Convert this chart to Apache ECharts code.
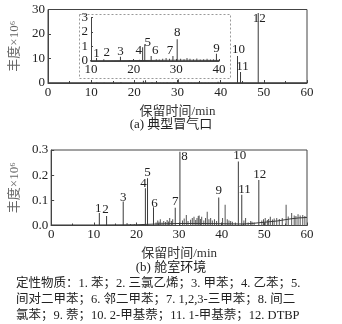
<!DOCTYPE html>
<html>
<head>
<meta charset="utf-8">
<script src="https://cdn.jsdelivr.net/npm/echarts@6/dist/echarts.min.js"></script>
<style>
  html, body { margin: 0; padding: 0; background: #fff; }
  #chart { width: 342px; height: 324px; }
</style>
</head>
<body>
<div id="chart"></div>
<script>
// 峰编号
const peakNames = ['1', '2', '3', '4', '5', '6', '7', '8', '9', '10', '11', '12']
// (a) 典型冒气口 峰位置(min) / 丰度(×10^6)
const peakTimeA = [11.3, 13.0, 16.9, 22.1, 22.6, 24.1, 29.2, 30.2, 39.4, 43.9, 44.6, 48.7]
const peakHeightA = [0.2, 0.12, 0.3, 0.95, 1.15, 0.35, 0.35, 1.5, 0.5, 11, 4.5, 28.6]
// (a) 小峰
const minorTimeA = [19.0, 20.5, 21.4, 25.3, 26.0, 26.8, 27.6, 28.4, 31.0, 31.8, 32.5, 33.2, 34.0, 34.8, 35.6, 36.4, 37.2, 38.0, 38.7]
const minorHeightA = [0.05, 0.06, 0.08, 0.12, 0.1, 0.15, 0.2, 0.15, 0.15, 0.12, 0.2, 0.15, 0.12, 0.18, 0.1, 0.12, 0.15, 0.1, 0.12]
const baseTimeA = [0, 10, 20, 30, 40, 50, 60]
const baseHeightA = [0.02, 0.02, 0.03, 0.05, 0.04, 0.03, 0.03]

// (b) 舱室环境
const peakTimeB = [11.3, 13.0, 16.9, 22.1, 22.6, 24.0, 29.1, 30.2, 39.3, 43.9, 44.7, 48.7]
const peakHeightB = [0.05, 0.038, 0.095, 0.148, 0.188, 0.073, 0.071, 0.293, 0.111, 0.254, 0.122, 0.181]
const minorTimeB = [17.8, 18.6, 19.5, 24.6, 25.0, 25.3, 25.6, 26.0, 26.4, 26.8, 27.2, 27.5, 27.8, 28.2, 28.5,
  30.8, 31.2, 31.7, 32.1, 32.7, 33.1, 33.5, 33.9, 34.2, 34.5, 34.7, 35.0, 35.3, 35.8, 36.2, 36.6, 37.0, 37.4, 37.8, 38.3, 38.8,
  40.2, 40.8, 41.3, 41.7, 42.1, 42.5, 43.2, 45.2, 45.6, 46.2, 46.8, 47.1, 47.6, 49.4, 49.8, 50.2, 50.7, 51.0, 51.4, 51.9, 52.3, 52.9, 53.5, 54.2,
  55.1, 55.6, 56.4, 57.0, 57.4, 57.9, 58.4, 59.0, 59.5]
const minorHeightB = [0.01, 0.006, 0.005, 0.012, 0.02, 0.015, 0.025, 0.012, 0.018, 0.014, 0.022, 0.016, 0.03, 0.018, 0.025,
  0.02, 0.028, 0.042, 0.018, 0.023, 0.03, 0.035, 0.022, 0.03, 0.038, 0.04, 0.026, 0.035, 0.02, 0.03, 0.055, 0.025, 0.03, 0.02, 0.025, 0.018,
  0.03, 0.082, 0.025, 0.02, 0.018, 0.015, 0.012, 0.02, 0.03, 0.012, 0.018, 0.015, 0.012, 0.02, 0.025, 0.03, 0.022, 0.026, 0.035, 0.024, 0.028, 0.03, 0.026, 0.03,
  0.082, 0.036, 0.05, 0.04, 0.038, 0.045, 0.04, 0.042, 0.038]
const baseTimeB = [0, 10, 20, 25, 30, 35, 40, 45, 47, 50, 53, 56, 58, 60]
const baseHeightB = [0.002, 0.002, 0.003, 0.006, 0.008, 0.008, 0.007, 0.006, 0.008, 0.013, 0.018, 0.026, 0.03, 0.032]

const yTicksA = [0, 10, 20, 30]
const yTicksB = [0, 0.1, 0.2, 0.3]

// 标签偏移 [dx, dy]
const labelOffsetA = [[0, 1.5], [3, 0], [0, 1.5], [-4, 10], [3, 5], [4, 1], [-3, 1], [0, 0], [0, 1], [1, 0.5], [2, 1.5], [1, 12.5]]
const labelOffsetB = [[-1, 2.5], [-1, 0.5], [0, 2.5], [-2, 1.5], [0, 1], [1, 2.5], [0, 0], [4.5, 11.5], [0, 0], [1.5, 1], [2.7, 1.5], [1, 1]]

const serif = '"Liberation Serif", "Noto Sans CJK SC", serif'
const lineColor = '#3a3a3a'

const zip = (xs, ys) => xs.map((x, i) => [x, ys[i]])

function mainAxes(gridIndex, yMax, yInterval) {
  const x = {
    type: 'value', gridIndex, min: 0, max: 60, interval: 10,
    name: '保留时间/min', nameLocation: 'middle', nameGap: 22,
    nameTextStyle: { fontFamily: serif, fontSize: 13, color: '#333' },
    axisLine: { lineStyle: { color: '#444' } },
    axisTick: { inside: true, length: 3, lineStyle: { color: '#444' } },
    minorTick: { show: true, splitNumber: 2, length: 2, lineStyle: { color: '#444' } },
    axisLabel: { fontFamily: serif, fontSize: 13, color: '#222', margin: 3 },
    splitLine: { show: false }
  }
  const y = {
    type: 'value', gridIndex, min: 0, max: yMax, interval: yInterval,
    name: '丰度×10⁶', nameLocation: 'middle', nameGap: 22, nameRotate: 90,
    nameTextStyle: { fontFamily: serif, fontSize: 13, color: '#666' },
    axisLine: { show: true, lineStyle: { color: '#444' } },
    axisTick: { show: true, inside: true, length: 3, lineStyle: { color: '#444' } },
    axisLabel: {
      fontFamily: serif, fontSize: 13, color: '#222', margin: 3,
      formatter: v => yMax < 1 ? v.toFixed(1) : String(v)
    },
    splitLine: { show: false }
  }
  return [x, y]
}

function traceSeries(axisIdx, peakT, peakH, minorT, minorH, baseT, baseH, offsets, labelSize) {
  const peaks = peakT.map((t, i) => ({
    value: [t, peakH[i]],
    label: {
      show: true, formatter: peakNames[i], position: 'top', distance: 0,
      offset: offsets[i], fontFamily: serif, fontSize: labelSize, color: '#222'
    }
  }))
  return [
    {
      type: 'line', xAxisIndex: axisIdx, yAxisIndex: axisIdx, data: zip(baseT, baseH),
      symbol: 'none', lineStyle: { color: lineColor, width: 1 }, silent: true
    },
    {
      type: 'bar', xAxisIndex: axisIdx, yAxisIndex: axisIdx, data: zip(minorT, minorH),
      barWidth: 1, itemStyle: { color: '#555' }, barGap: '-100%', silent: true
    },
    {
      type: 'bar', xAxisIndex: axisIdx, yAxisIndex: axisIdx, data: peaks,
      barWidth: 1, itemStyle: { color: lineColor }, barGap: '-100%', silent: true
    }
  ]
}

const chart = echarts.init(document.getElementById('chart'), null, { renderer: 'canvas' })

const [xA, yA] = mainAxes(0, 30, 10)
const [xB, yB] = mainAxes(2, 0.3, 0.1)

// 插图坐标轴
const xInset = {
  type: 'value', gridIndex: 1, min: 10, max: 40, interval: 10,
  axisLine: { lineStyle: { color: '#444' } },
  axisTick: { inside: true, length: 2, lineStyle: { color: '#444' } },
  axisLabel: { fontFamily: serif, fontSize: 13, color: '#222', margin: 2 },
  splitLine: { show: false }
}
const yInset = {
  type: 'value', gridIndex: 1, min: 0, max: 3, interval: 1,
  axisLine: { show: true, lineStyle: { color: '#444' } },
  axisTick: { show: true, inside: true, length: 2, lineStyle: { color: '#444' } },
  axisLabel: { fontFamily: serif, fontSize: 13, color: '#222', margin: 3 },
  splitLine: { show: false }
}

// 插图只显示 10-40 min 的峰 (1-9)
const insetPeakT = peakTimeA.slice(0, 9)
const insetPeakH = peakHeightA.slice(0, 9)

const seriesA = traceSeries(0, peakTimeA, peakHeightA, minorTimeA, minorHeightA, baseTimeA, baseHeightA, labelOffsetA, 13)
// 主图只标注 10、11、12
seriesA[2].data.forEach((d, i) => { if (i < 9) d.label.show = false })

const seriesInset = traceSeries(1, insetPeakT, insetPeakH, minorTimeA, minorHeightA, baseTimeA, baseHeightA, labelOffsetA, 13)
const seriesB = traceSeries(2, peakTimeB, peakHeightB, minorTimeB, minorHeightB, baseTimeB, baseHeightB, labelOffsetB, 13)

const option = {
  animation: false,
  backgroundColor: '#fff',
  grid: [
    { left: 48, top: 9.5, width: 259, height: 73.5, show: true, borderColor: '#444', borderWidth: 1, backgroundColor: 'transparent' },
    { left: 91, top: 17.5, width: 128, height: 43.5 },
    { left: 48, top: 150, width: 259, height: 75.5, show: true, borderColor: '#444', borderWidth: 1, backgroundColor: 'transparent' }
  ],
  xAxis: [xA, xInset, xB],
  yAxis: [yA, yInset, yB],
  series: [...seriesA, ...seriesInset, ...seriesB],
  graphic: [
    {
      type: 'rect', left: 77, top: 12, z: 0,
      shape: { width: 151, height: 64 },
      style: { fill: 'none', stroke: '#999', lineWidth: 1, lineDash: [2, 2] }
    },
    {
      type: 'text', left: 'center', top: 118,
      style: { text: '(a) 典型冒气口', font: '13px ' + serif, fill: '#222' }
    },
    {
      type: 'text', left: 'center', top: 261,
      style: { text: '(b) 舱室环境', font: '13px ' + serif, fill: '#222' }
    },
    {
      type: 'text', left: 16, top: 276,
      style: {
        text: '定性物质：1. 苯；2. 三氯乙烯；3. 甲苯；4. 乙苯；5.\n间对二甲苯；6. 邻二甲苯；7. 1,2,3-三甲苯；8. 间二\n氯苯；9. 萘；10. 2-甲基萘；11. 1-甲基萘；12. DTBP',
        font: '12.5px ' + serif, fill: '#222', lineHeight: 16
      }
    }
  ]
}

chart.setOption(option)
</script>
</body>
</html>
